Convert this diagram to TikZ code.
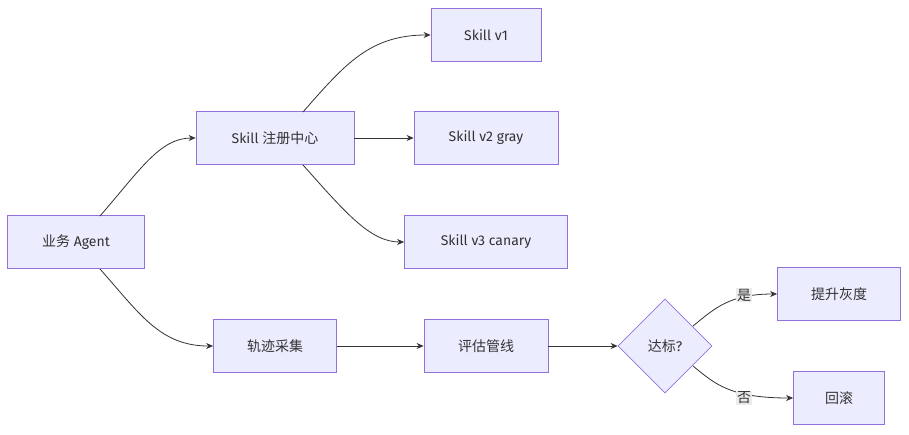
\documentclass[tikz,border=0pt]{standalone}
\usepackage{fontspec}
\setmainfont{Fira Sans}
\newfontfamily\cjk{Noto Sans CJK SC}
\usetikzlibrary{shapes.geometric,arrows.meta}
\definecolor{nfill}{HTML}{ECECFF}
\definecolor{nline}{HTML}{9370DB}
\definecolor{tcol}{HTML}{333333}
\begin{document}
\begin{tikzpicture}[x=1pt,y=-1pt,
  box/.style={draw=nline,fill=nfill,line width=0.8pt,minimum height=53pt,text=tcol,font=\fontsize{14}{16}\selectfont,inner sep=0pt},
  dia/.style={diamond,draw=nline,fill=nfill,line width=0.8pt,minimum width=94pt,minimum height=94pt,text=tcol,font=\fontsize{14}{16}\selectfont,inner sep=0pt,aspect=1},
  edge/.style={draw=tcol,line width=0.8pt,-{Stealth[length=7pt,width=6pt]}},
  lab/.style={fill=black!8,text=tcol,font=\cjk\fontsize{14}{16}\selectfont,inner sep=1pt}]
\useasboundingbox (0,0) rectangle (909,434);
\node[box,minimum width=137pt] (agent) at (76,242) {{\cjk 业务} Agent};
\node[box,minimum width=158pt] (reg) at (275,138) {Skill {\cjk 注册中心}};
\node[box,minimum width=110pt] (v1) at (486,35) {Skill v1};
\node[box,minimum width=144pt] (v2) at (486,138) {Skill v2 gray};
\node[box,minimum width=163pt] (v3) at (486,242) {Skill v3 canary};
\node[box,minimum width=123pt] (tr) at (275,346) {\cjk 轨迹采集};
\node[box,minimum width=124pt] (ev) at (486,346) {\cjk 评估管线};
\node[dia] (d) at (665,346) {{\cjk 达标}?};
\node[box,minimum width=123pt] (up) at (839,294) {\cjk 提升灰度};
\node[box,minimum width=91pt] (rb) at (839,398) {\cjk 回滚};
\coordinate (a1) at (100,216);
\coordinate (a2) at (100,269);
\coordinate (r1) at (303,112);
\coordinate (r2) at (303,165);
\coordinate (d1) at (693,326);
\coordinate (d2) at (693,366);
\draw[edge] (a1) .. controls (140,170) and (160,138) .. (reg.west);
\draw[edge] (a2) .. controls (140,314) and (160,346) .. (tr.west);
\draw[edge] (r1) .. controls (345,64) and (370,35) .. (v1.west);
\draw[edge] (reg.east) -- (v2.west);
\draw[edge] (r2) .. controls (345,212) and (370,242) .. (v3.west);
\draw[edge] (tr.east) -- (ev.west);
\draw[edge] (ev.east) -- (d.west);
\draw[edge] (d1) .. controls (715,308) and (730,294) .. (up.west);
\draw[edge] (d2) .. controls (715,384) and (730,398) .. (rb.west);
\node[lab] (ly) at (744,295) {是};
\node[lab] (ln) at (744,398) {否};
\end{tikzpicture}
\end{document}
